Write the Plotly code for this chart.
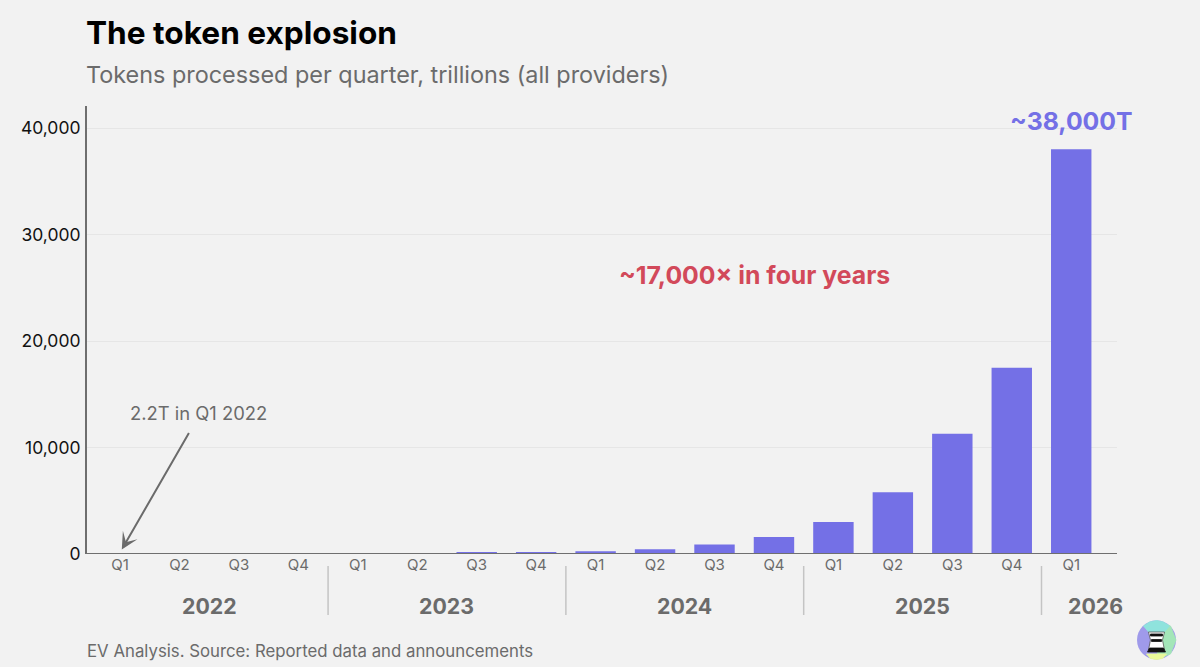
import plotly.graph_objects as go

quarters = ["Q1","Q2","Q3","Q4","Q1","Q2","Q3","Q4","Q1","Q2","Q3","Q4","Q1","Q2","Q3","Q4","Q1"]
tokens = [2.2,5,10,18,30,45,100,150,250,450,900,1600,3000,5800,11300,17500,38000]
years = ["2022","2023","2024","2025","2026"]
year_centers = [1.5,5.5,9.5,13.5,16.4]
year_breaks = [3.5,7.5,11.5,15.5]
y_ticks = [0,10000,20000,30000,40000]
y_labels = ["0","10,000","20,000","30,000","40,000"]

W, H = 1200, 667
L, R, T, B = 87, 1117, 106, 554
FONT = "Inter"
BG = "#f2f2f2"
PURPLE = "#7470e6"
GREY = "#6b6b6b"

fig = go.Figure()
fig.add_trace(go.Bar(x=list(range(len(tokens))), y=tokens, width=0.68,
                     marker=dict(color=PURPLE, line=dict(width=0)), hoverinfo="skip"))

# paper coords are relative to the plot area, not the page
def px_x(p):
    return (p - L) / (R - L)

def px_y(p):
    return (B - p) / (B - T)

def text(x, y, s, size, color, weight=400, xanchor="left", yanchor="middle"):
    fig.add_annotation(xref="paper", yref="paper", x=px_x(x), y=px_y(y), text=s, showarrow=False,
                       xanchor=xanchor, yanchor=yanchor, align="left",
                       font=dict(family=FONT, size=size, color=color, weight=weight))

text(84, 33, "The token explosion", 31.6, "#000000", 700)
text(84, 74, "Tokens processed per quarter, trillions (all providers)", 23.4, GREY, 400)
text(85, 651, "EV Analysis. Source: Reported data and announcements", 16.8, GREY, 400)
text(128, 413, "2.2T in Q1 2022", 18.4, GREY, 400)
text(754, 275, "~17,000× in four years", 24.8, "#d2495a", 700, xanchor="center")
text(1071, 121, "~38,000T", 24.8, PURPLE, 700, xanchor="center")

for yr, c in zip(years, year_centers):
    fig.add_annotation(xref="x", yref="paper", x=c, y=px_y(606), yanchor="middle", text=yr, showarrow=False,
                       font=dict(family=FONT, size=21.3, color=GREY, weight=700))

for b in year_breaks:
    fig.add_shape(type="line", xref="x", yref="paper", x0=b, x1=b, y0=px_y(566), y1=px_y(615),
                  line=dict(color="#c4c4c4", width=1.5))

# baseline sits on top of the tiny bars
fig.add_shape(type="line", xref="paper", yref="y", x0=0, x1=1, y0=0, y1=0, layer="above",
              line=dict(color="#6f6f6f", width=2))

# arrow from the note down to the first bar
fig.add_annotation(xref="x", yref="y", x=0.03, y=420, ax=68, ay=-118, axref="pixel", ayref="pixel",
                   text="", showarrow=True, arrowhead=3, arrowsize=1.4, arrowwidth=2, arrowcolor=GREY, standoff=0)

# logo
cx, cy, r = 1156.5, 640, 19.5
def circ(fill, x0, y0, x1, y1):
    fig.add_shape(type="circle", xref="paper", yref="paper", x0=px_x(x0), x1=px_x(x1), y0=px_y(y0), y1=px_y(y1),
                  fillcolor=fill, line=dict(width=0))

def poly(fill, pts, line_color=None):
    path = "M " + " L ".join(f"{px_x(a):.5f} {px_y(b):.5f}" for a, b in pts) + " Z"
    fig.add_shape(type="path", xref="paper", yref="paper", path=path, fillcolor=fill,
                  line=dict(color=line_color or fill, width=0.8))

circ("#9f9aea", cx-r, cy-r, cx+r, cy+r)
poly("#a3e6b8", [(cx+1,cy-19),(cx+14,cy-14),(cx+19.5,cy),(cx+14,cy+14),(cx+1,cy+19)])
poly("#8fe3dd", [(cx-13,cy-14),(cx-7,cy-18),(cx,cy-19.5),(cx+7,cy-18),(cx+13,cy-14),(cx+7,cy-7),(cx-7,cy-7)])
poly("#e9f99a", [(cx-10,cy+14),(cx+10,cy+14),(cx+6,cy+18.5),(cx,cy+19.5),(cx-6,cy+18.5)])
poly("#ffffff", [(cx-8,cy-8),(cx+8,cy-8),(cx+6,cy),(cx+8,cy+10),(cx-8,cy+10),(cx-6,cy)], "#555555")
poly("#111111", [(cx-6,cy-6),(cx+6,cy-6),(cx+6,cy-4),(cx-6,cy-4)])
poly("#111111", [(cx-5,cy-0.5),(cx+5,cy-0.5),(cx+5,cy+1.5),(cx-5,cy+1.5)])
poly("#111111", [(cx-7,cy+8),(cx+7,cy+8),(cx+9,cy+12),(cx-9,cy+12)])

fig.update_layout(
    width=W, height=H, showlegend=False,
    paper_bgcolor=BG, plot_bgcolor=BG,
    margin=dict(l=L, r=W-R, t=T, b=H-B, autoexpand=False),
    font=dict(family=FONT),
    xaxis=dict(range=[-0.555,16.77], tickmode="array", tickvals=list(range(len(quarters))), ticktext=quarters,
               showgrid=False, zeroline=False, showline=False,
               ticks="", tickfont=dict(family=FONT, size=15, color=GREY)),
    yaxis=dict(range=[0,42066], tickmode="array", tickvals=y_ticks, ticktext=y_labels,
               showgrid=True, gridcolor="#e6e6e6", gridwidth=1, zeroline=False,
               showline=True, linecolor="#6f6f6f", linewidth=2, ticks="",
               tickfont=dict(family=FONT, size=17.5, color="#111111"), ticklabelstandoff=1),
)

fig.write_html("out.html", post_script="document.body.style.margin='0';", config=dict(displayModeBar=False))
